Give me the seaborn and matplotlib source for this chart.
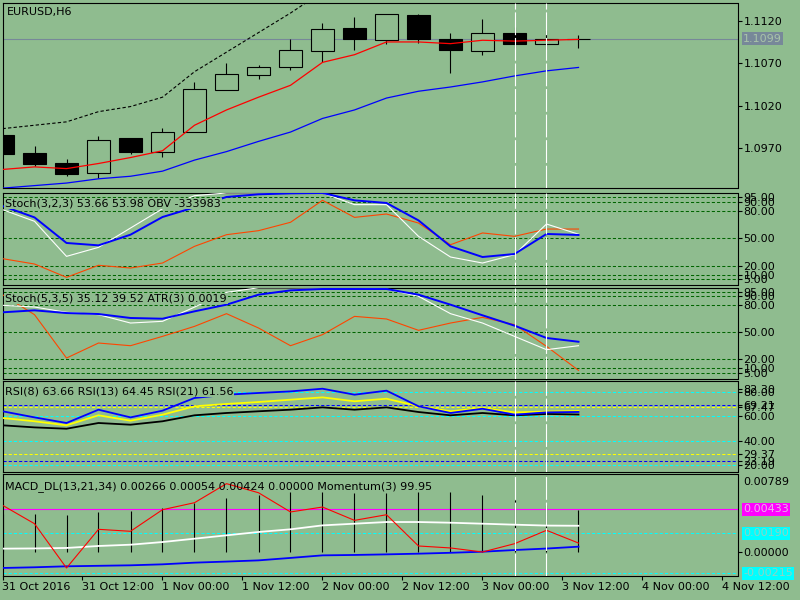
import matplotlib
matplotlib.use("Agg")
import matplotlib.pyplot as plt
import numpy as np
import pandas as pd
import seaborn as sns

plt.rcParams['font.family'] = ['DejaVu Sans']

# ---------------- data ----------------
bars = list(range(19))
opens  = [1.0986, 1.0964, 1.0953, 1.0941, 1.0982, 1.0966, 1.0989, 1.1039, 1.1056, 1.1065,
          1.1084, 1.1111, 1.1097, 1.1127, 1.1098, 1.1084, 1.1106, 1.1092, 1.1099]
closes = [1.0963, 1.0952, 1.0940, 1.0980, 1.0965, 1.0989, 1.1040, 1.1057, 1.1065, 1.1085,
          1.1110, 1.1098, 1.1128, 1.1099, 1.1085, 1.1106, 1.1092, 1.1099, 1.1099]
highs  = [1.0986, 1.0973, 1.0957, 1.0984, 1.0982, 1.0994, 1.1048, 1.1070, 1.1068, 1.1099,
          1.1117, 1.1124, 1.1128, 1.1128, 1.1106, 1.1122, 1.1112, 1.1109, 1.1103]
lows   = [1.0963, 1.0949, 1.0937, 1.0935, 1.0963, 1.0960, 1.0989, 1.1038, 1.1051, 1.1062,
          1.1071, 1.1085, 1.1092, 1.1094, 1.1059, 1.1080, 1.1088, 1.1087, 1.1088]
ma_fast = [1.0945, 1.0948, 1.0946, 1.0952, 1.0959, 1.0967, 1.0997, 1.1015, 1.1030, 1.1044,
           1.1071, 1.1080, 1.1095, 1.1095, 1.1093, 1.1097, 1.1096, 1.1097, 1.1098]
ma_slow = [1.0923, 1.0926, 1.0929, 1.0934, 1.0937, 1.0943, 1.0956, 1.0966, 1.0978, 1.0989,
           1.1005, 1.1015, 1.1029, 1.1037, 1.1042, 1.1048, 1.1055, 1.1061, 1.1065]
upper_band = [1.0993, 1.0997, 1.1001, 1.1013, 1.1019, 1.1030, 1.1060, 1.1083, 1.1106, 1.1129, 1.1154]
last_price = 1.1099
price_ticks = [1.1120, 1.1070, 1.1020, 1.0970]

stoch1_main = [85.5, 73.0, 44.9, 42.3, 54.0, 73.4, 84.0, 95.4, 98.3, 99.4,
               99.8, 91.7, 88.8, 69.7, 41.2, 29.5, 32.8, 54.8, 53.7]
stoch1_sig = [81.5, 68.7, 30.2, 40.1, 61.3, 82.5, 96.8, 99.8, 99.8, 99.8,
              99.8, 87.0, 87.0, 52.2, 29.5, 22.9, 32.1, 65.7, 54.5]
obv_scaled = [27.7, 21.8, 7.2, 20.4, 17.4, 22.9, 41.2, 54.0, 58.4, 67.6,
              91.7, 73.0, 76.7, 66.8, 43.0, 55.9, 52.2, 60.2, 60.2]
stoch_levels = [95, 90, 80, 50, 20, 10, 5]

stoch2_main = [72.2, 74.4, 71.4, 70.3, 65.9, 65.1, 73.3, 80.7, 91.8, 96.6,
               98.1, 98.1, 98.1, 91.8, 80.7, 68.9, 57.4, 43.7, 39.5]
stoch2_sig = [80.0, 78.1, 72.2, 69.6, 60.3, 62.2, 78.0, 94.4, 99.5, 99.5,
              99.2, 99.2, 98.1, 90.0, 70.7, 60.3, 45.5, 30.7, 35.1]
atr_scaled = [91.8, 69.6, 21.4, 38.1, 35.1, 45.5, 56.6, 70.7, 54.8, 35.1,
              47.4, 67.7, 64.8, 52.2, 60.3, 66.6, 58.5, 34.4, 7.7]

rsi8 = [64.2, 59.2, 54.6, 65.5, 59.2, 64.7, 75.1, 77.8, 79.2, 80.5,
        82.7, 77.8, 81.1, 68.3, 62.8, 66.3, 61.4, 63.3, 63.66]
rsi13 = [58.7, 56.0, 52.7, 60.9, 56.5, 61.4, 68.3, 70.2, 71.8, 73.7,
         75.6, 72.4, 74.5, 68.3, 64.2, 66.9, 63.3, 64.0, 64.45]
rsi21 = [52.7, 51.0, 49.9, 54.6, 53.2, 56.0, 60.9, 62.8, 64.2, 65.5,
         67.4, 65.5, 67.4, 63.6, 60.9, 62.8, 60.9, 62.0, 61.56]
rsi_cyan_levels = [80, 60, 40, 20]
rsi_yellow_levels = [67.5, 29.37]
rsi_blue_levels = [69.21, 23.2]
rsi_tick_vals = [82.3, 80, 69.21, 67.5, 60, 40, 29.37, 23.2, 20]
rsi_tick_labels = ["82.30", "80.00", "69.21", "67.47", "60.00", "40.00", "29.37", "23.19", "20.00"]

macd_hist = [0.00390, 0.00388, 0.00378, 0.00406, 0.00413, 0.00446, 0.00497, 0.00548, 0.00581, 0.00608,
             0.00608, 0.00601, 0.00601, 0.00608, 0.00608, 0.00581, 0.00524, 0.00480, 0.00424]
macd_main = [0.00034, 0.00036, 0.00041, 0.00061, 0.00074, 0.00101, 0.00135, 0.00169, 0.00203, 0.00230,
             0.00270, 0.00287, 0.00304, 0.00304, 0.00297, 0.00287, 0.00277, 0.00268, 0.00266]
macd_signal = [-0.00162, -0.00155, -0.00145, -0.00140, -0.00135, -0.00125, -0.00108, -0.00097, -0.00085, -0.00060,
               -0.00034, -0.00030, -0.00024, -0.00017, -0.00008, 0.00003, 0.00020, 0.00035, 0.00054]
momentum_scaled = [0.00474, 0.00287, -0.00162, 0.00230, 0.00210, 0.00429, 0.00500, 0.00693, 0.00601, 0.00406,
                   0.00456, 0.00321, 0.00378, 0.00061, 0.00041, 0.00000, 0.00084, 0.00220, 0.00091]
macd_level_magenta = 0.00433
macd_levels_cyan = [0.00190, -0.00215]
macd_max = 0.00789

vlines_at = [16, 17]
time_labels = ["31 Oct 2016", "31 Oct 12:00", "1 Nov 00:00", "1 Nov 12:00", "2 Nov 00:00",
               "2 Nov 12:00", "3 Nov 00:00", "3 Nov 12:00", "4 Nov 00:00", "4 Nov 12:00"]

# ---------------- layout / style ----------------
BG = '#8fbc8f'
W, H = 800, 600
LEFT, RIGHT = 2.5, 737.5
BAR_PX = 32.0
XMAX = (RIGHT - LEFT) / BAR_PX
GRID_LW = 0.75
DASH_GRID = (0, (3, 2))
VDASH = (0, (20.5, 2.5))

fig = plt.figure(figsize=(8, 6), dpi=100, facecolor=BG)


def panel(top, bottom, ylim):
    ax = fig.add_axes([LEFT / W, 1 - bottom / H, (RIGHT - LEFT) / W, (bottom - top) / H])
    ax.set_facecolor(BG)
    for s in ax.spines.values():
        s.set_color('black')
        s.set_linewidth(0.8)
    ax.set_xlim(0, XMAX)
    ax.set_ylim(*ylim)
    ax.yaxis.tick_right()
    ax.tick_params(axis='y', direction='out', length=2.6, width=0.8, colors='black',
                   labelsize=8, pad=1.6, left=False)
    ax.tick_params(axis='x', bottom=False, labelbottom=False)
    for xv in vlines_at:
        ax.axvline(xv, color='white', lw=0.8, ls=VDASH, zorder=6)
    return ax


def sline(ax, y, color, lw=0.8, ls='-', z=4):
    df = pd.DataFrame({'x': bars[:len(y)], 'y': y})
    sns.lineplot(data=df, x='x', y='y', ax=ax, color=color, linewidth=lw, linestyle=ls,
                 estimator=None, sort=False, zorder=z, legend=False)
    ax.set_xlabel('')
    ax.set_ylabel('')


def side_box(ax, yval, text, fc, tc):
    ax.annotate(text, xy=(1, yval), xycoords=('axes fraction', 'data'), xytext=(5.5, 0),
                textcoords='offset pixels', va='center', ha='left', fontsize=8, color=tc,
                bbox=dict(boxstyle='square,pad=0.12', fc=fc, ec='none'), annotation_clip=False)


def panel_label(x_px, y_px, s, box=True):
    kw = dict(fontsize=8, color='black', va='center', ha='left', zorder=10)
    if box:
        kw['bbox'] = dict(boxstyle='square,pad=0.08', fc=BG, ec='none')
    fig.text(x_px / W, 1 - y_px / H, s, **kw)


def hlevels(ax, levels, color, ls=DASH_GRID):
    for lv in levels:
        ax.axhline(lv, color=color, lw=GRID_LW, ls=ls, zorder=1)


# ---- panel 1: price ----
ax1 = panel(2.5, 188, (1.092318, 1.114141))
ax1.axhline(last_price, color='#778899', lw=0.8, zorder=1)
for i in bars:
    o, c, hi, lo = opens[i], closes[i], highs[i], lows[i]
    ax1.vlines(i, lo, hi, color='black', lw=0.8, zorder=2)
    bear = c < o
    ax1.bar(i, abs(c - o), bottom=min(o, c), width=0.69,
            facecolor='black' if bear else BG, edgecolor='black', linewidth=0.8, zorder=3)
sline(ax1, ma_fast, '#ff0000', 0.9)
sline(ax1, ma_slow, '#0000ff', 0.9)
sline(ax1, upper_band, 'black', 0.8, ls=(0, (3, 2)))
ax1.set_yticks(price_ticks)
ax1.set_yticklabels([f"{v:.4f}" for v in price_ticks])
side_box(ax1, last_price, f"{last_price:.4f}", '#778899', '#a9c4a9')
panel_label(7, 12, "EURUSD,H6", box=False)

# ---- panel 2: Stoch(3,2,3) + OBV ----
ax2 = panel(192.5, 284.5, (-0.68, 100.31))
hlevels(ax2, stoch_levels, '#006400')
sline(ax2, obv_scaled, '#ff4500', 0.8)
sline(ax2, stoch1_sig, 'white', 0.8)
sline(ax2, stoch1_main, '#0000ff', 1.4)
ax2.set_yticks(stoch_levels)
ax2.set_yticklabels([f"{v:.2f}" for v in stoch_levels])
panel_label(5, 203.5, "Stoch(3,2,3) 53.66 53.98 OBV -333983")

# ---- panel 3: Stoch(5,3,5) + ATR ----
ax3 = panel(287.5, 378.5, (-1.33, 99.78))
hlevels(ax3, stoch_levels, '#006400')
sline(ax3, atr_scaled, '#ff4500', 0.8)
sline(ax3, stoch2_sig, 'white', 0.8)
sline(ax3, stoch2_main, '#0000ff', 1.4)
ax3.set_yticks(stoch_levels)
ax3.set_yticklabels([f"{v:.2f}" for v in stoch_levels])
panel_label(5, 298.5, "Stoch(5,3,5) 35.12 39.52 ATR(3) 0.0019")

# ---- panel 4: RSI ----
ax4 = panel(381, 471.5, (14.84, 89.02))
hlevels(ax4, rsi_cyan_levels, '#00ffff')
hlevels(ax4, rsi_yellow_levels, '#ffff00')
hlevels(ax4, rsi_blue_levels, '#0000ff')
sline(ax4, rsi21, 'black', 1.3)
sline(ax4, rsi13, '#ffff00', 1.3)
sline(ax4, rsi8, '#0000ff', 1.3)
ax4.set_yticks(rsi_tick_vals)
ax4.set_yticklabels(rsi_tick_labels)
panel_label(5, 391.5, "RSI(8) 63.66 RSI(13) 64.45 RSI(21) 61.56")

# ---- panel 5: MACD + Momentum ----
ax5 = panel(474, 575.5, (-0.002383, 0.00791))
ax5.axhline(macd_level_magenta, color='#ff00ff', lw=0.8, zorder=1)
hlevels(ax5, macd_levels_cyan, '#00ffff')
ax5.vlines(bars, 0, macd_hist, color='black', lw=0.8, zorder=2)
sline(ax5, macd_main, 'white', 1.3)
sline(ax5, macd_signal, '#0000ff', 1.3)
sline(ax5, momentum_scaled, '#ff0000', 0.8)
ax5.set_yticks([0.0])
ax5.set_yticklabels(["0.00000"])
ax5.annotate(f"{macd_max:.5f}", xy=(1, 1), xycoords='axes fraction', xytext=(5.5, -3),
             textcoords='offset pixels', va='top', ha='left', fontsize=8, color='black',
             annotation_clip=False)
side_box(ax5, macd_level_magenta, f"{macd_level_magenta:.5f}", '#ff00ff', '#eab0ea')
for lv in macd_levels_cyan:
    side_box(ax5, lv, f"{lv:.5f}", '#00ffff', '#8fd3c3')
panel_label(5, 486.5, "MACD_DL(13,21,34) 0.00266 0.00054 0.00424 0.00000 Momentum(3) 99.95", box=False)

ax5.set_xticks([i * 2.5 for i in range(len(time_labels))])
ax5.set_xticklabels(time_labels)
ax5.tick_params(axis='x', bottom=True, labelbottom=True, direction='out', length=3,
                width=0.8, colors='black', labelsize=8, pad=1.5)
for lab in ax5.get_xticklabels():
    lab.set_horizontalalignment('left')

fig.savefig("out.png", dpi=100, facecolor=BG)
